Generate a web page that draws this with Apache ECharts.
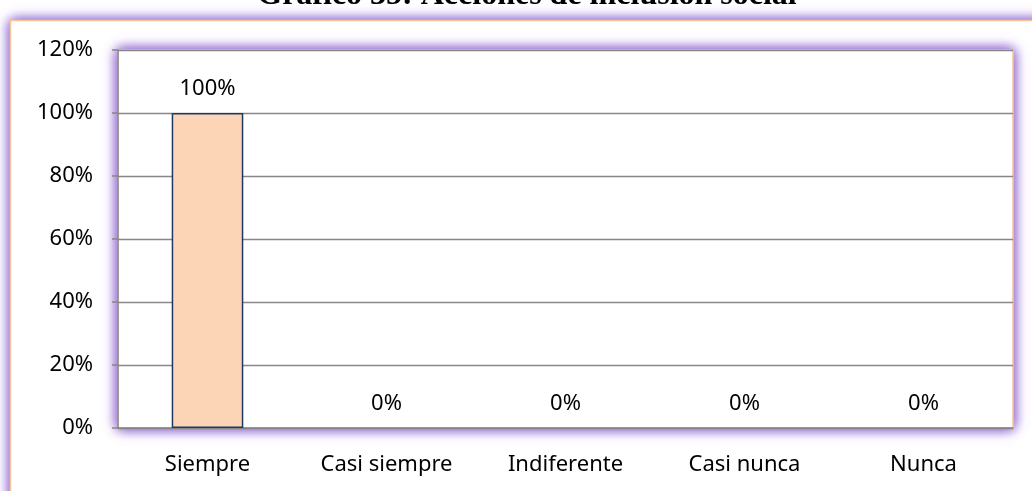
<!DOCTYPE html>
<html>
<head>
<meta charset="utf-8">
<style>
  html, body { margin: 0; padding: 0; background: #ffffff; }
  #chart { width: 1032px; height: 491px; }
</style>
<script src="https://cdn.jsdelivr.net/npm/echarts@6/dist/echarts.min.js"></script>
</head>
<body>
<div id="chart"></div>
<script>
// Categories and shares of responses (percent)
const categories = ['Siempre', 'Casi siempre', 'Indiferente', 'Casi nunca', 'Nunca'];
const values = [100, 0, 0, 0, 0];
const yTicks = [0, 20, 40, 60, 80, 100, 120];

const W = 1032, H = 491;
const gridBox = { left: 118, top: 50, right: 19, bottom: 63 };
const font = '"Noto Sans", "Open Sans", sans-serif';
const glow = 'rgba(160,125,215,1)';
const frameColor = '#F9C497';

const chart = echarts.init(document.getElementById('chart'), null, { renderer: 'canvas' });

// Soft lavender glow around a box: stacked blurred shadows under a white fill
function glowRects(x, y, w, h, z) {
  const out = [];
  for (let i = 0; i < 3; i++) {
    out.push({
      type: 'rect', z: z, silent: true,
      shape: { x: x, y: y, width: w, height: h },
      style: { fill: '#ffffff', shadowBlur: 12, shadowColor: glow }
    });
  }
  out.push({
    type: 'rect', z: z, silent: true,
    shape: { x: x, y: y, width: w, height: h },
    style: { fill: '#ffffff', stroke: frameColor, lineWidth: 1.5 }
  });
  return out;
}

const plotW = W - gridBox.left - gridBox.right;
const plotH = H - gridBox.top - gridBox.bottom;

chart.setOption({
  backgroundColor: '#ffffff',
  animation: false,
  graphic: [
    ...glowRects(10.5, 20.5, 1060, 520, -20),
    ...glowRects(gridBox.left, gridBox.top, plotW, plotH, -10),
    {
      type: 'text',
      z: 10,
      silent: true,
      x: 527,
      y: 12,
      style: {
        text: 'Gráfico 35: Acciones de inclusión social',
        font: 'bold 32px "Liberation Serif", "DejaVu Serif", serif',
        fill: '#000',
        align: 'center',
        verticalAlign: 'bottom'
      }
    }
  ],
  grid: Object.assign({ show: false }, gridBox),
  xAxis: {
    type: 'category',
    data: categories,
    axisLine: { show: true, lineStyle: { color: '#878787', width: 1.5 } },
    axisTick: { show: false },
    axisLabel: { margin: 26, fontFamily: font, fontSize: 22, color: '#000' }
  },
  yAxis: {
    type: 'value',
    min: yTicks[0], max: yTicks[yTicks.length - 1], interval: 20,
    axisLine: { show: true, lineStyle: { color: '#878787', width: 1.5 } },
    axisTick: { show: true, length: 6, lineStyle: { color: '#878787', width: 1.5 } },
    splitLine: { show: true, lineStyle: { color: '#878787', width: 1.3 } },
    axisLabel: { margin: 25, fontFamily: font, fontSize: 22, color: '#000', formatter: v => v + '%' }
  },
  series: [{
    type: 'bar',
    data: values.map(v => ({ value: v, itemStyle: v === 0 ? { borderWidth: 0 } : {} })),
    barWidth: '40%',
    itemStyle: { color: '#FBD5B5', borderColor: '#1F3864', borderWidth: 1.5 },
    label: {
      show: true,
      position: 'top',
      distance: 13,
      fontFamily: font,
      fontSize: 22,
      color: '#000',
      formatter: p => p.value + '%'
    }
  }]
});
</script>
</body>
</html>
